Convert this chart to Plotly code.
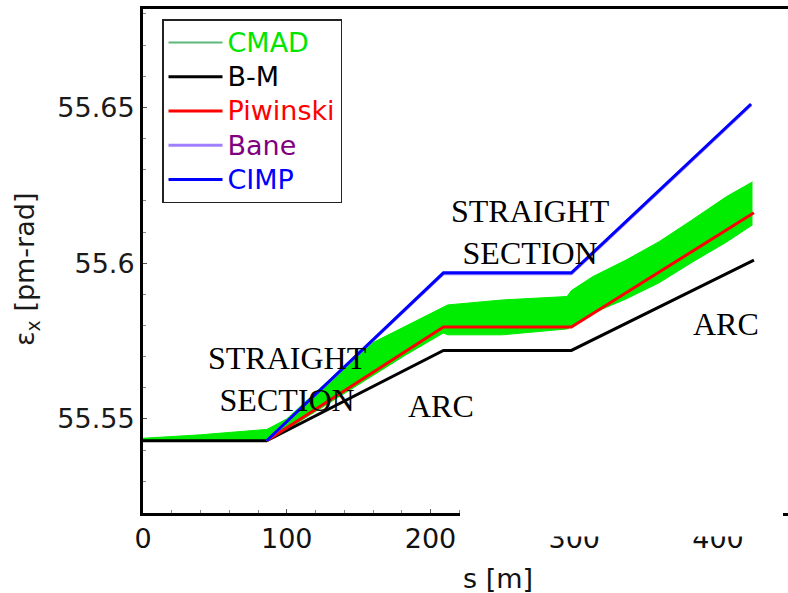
import plotly.graph_objects as go

# ---------------- data ----------------
s_bm = [0, 86, 209, 298, 425]
eps_bm = [55.5430, 55.5430, 55.5720, 55.5720, 55.6010]

s_piw = [86, 209, 298, 425]
eps_piw = [55.5430, 55.5795, 55.5795, 55.6162]

s_bane = [86, 209, 298, 423]
eps_bane = [55.5430, 55.5966, 55.5966, 55.6508]

s_cimp = [86, 209, 298, 423]
eps_cimp = [55.5430, 55.5969, 55.5969, 55.6511]

s_cmad = [0, 40, 85, 86, 100, 130, 150, 160, 183, 209, 212, 250, 295, 298, 313, 336, 359, 382, 406, 424]
cmad_upper = [55.5438, 55.5449, 55.5466, 55.5466, 55.5500, 55.5628, 55.5712, 55.5745, 55.5798, 55.5857,
              55.5866, 55.5882, 55.5893, 55.5912, 55.5957, 55.6010, 55.6069, 55.6139, 55.6214, 55.6261]
cmad_lower = [55.5430, 55.5430, 55.5430, 55.5428, 55.5466, 55.5553, 55.5612, 55.5641, 55.5706, 55.5776,
              55.5770, 55.5770, 55.5789, 55.5796, 55.5840, 55.5885, 55.5937, 55.6003, 55.6068, 55.6123]

x_ticks = [0, 100, 200, 300, 400]
y_ticks = [55.55, 55.6, 55.65]
y_tick_text = ["55.55", "55.6", "55.65"]

labels = ["STRAIGHT<br>SECTION", "STRAIGHT<br>SECTION", "ARC", "ARC"]
label_s = [100.5, 269.9, 207.0, 405.9]
label_eps = [55.5628, 55.6099, 55.5542, 55.5805]

# ---------------- figure ----------------
GREEN = "#00ec00"
fig = go.Figure()

# CMAD band (lower edge, then upper edge filled to it)
fig.add_trace(go.Scatter(x=s_cmad, y=cmad_lower, mode="lines",
                         line=dict(color=GREEN, width=1), showlegend=False, hoverinfo="skip"))
fig.add_trace(go.Scatter(x=s_cmad, y=cmad_upper, mode="lines", fill="tonexty",
                         fillcolor=GREEN, line=dict(color=GREEN, width=1),
                         showlegend=False, hoverinfo="skip"))

def lg(name, color):
    return '<span style="color:%s;font-size:27px">%s</span>' % (color, name)

# legend entries
fig.add_trace(go.Scatter(x=[None], y=[None], mode="lines",
                         line=dict(color="#5cb87a", width=2),
                         name=lg("CMAD", "#00e600")))
fig.add_trace(go.Scatter(x=s_bm, y=eps_bm, mode="lines",
                         line=dict(color="#000000", width=3),
                         name=lg("B-M", "#000000")))
fig.add_trace(go.Scatter(x=s_piw, y=eps_piw, mode="lines",
                         line=dict(color="#ff0000", width=3),
                         name=lg("Piwinski", "#ff0000")))
fig.add_trace(go.Scatter(x=s_bane, y=eps_bane, mode="lines",
                         line=dict(color="#a080ff", width=3),
                         name=lg("Bane", "#800080")))
fig.add_trace(go.Scatter(x=s_cimp, y=eps_cimp, mode="lines",
                         line=dict(color="#0000ff", width=3),
                         name=lg("CIMP", "#0000ff")))

for t, xs, ys in zip(labels, label_s, label_eps):
    fig.add_annotation(x=xs, y=ys, xref="x", yref="y", text=t, showarrow=False,
                       font=dict(family="Liberation Serif", size=32, color="#000000"),
                       xanchor="center", yanchor="middle", align="center")

# axis titles
fig.add_annotation(x=(498 - 143) / 645, y=(513 - 578) / 504, xref="paper", yref="paper",
                   text="s [m]", showarrow=False, xanchor="center", yanchor="middle",
                   font=dict(family="DejaVu Sans", size=27, color="#111111"))
fig.add_annotation(x=(27 - 143) / 645, y=(513 - 270) / 504, xref="paper", yref="paper",
                   text="ε<sub>x</sub> [pm-rad]", showarrow=False, textangle=-90,
                   xanchor="center", yanchor="middle",
                   font=dict(family="DejaVu Sans", size=27, color="#1a1a1a"))

# white patch covering part of the bottom axis (as in the reference image)
fig.add_shape(type="rect", xref="paper", yref="paper", layer="above",
              x0=(460 - 143) / 645, x1=(783 - 143) / 645,
              y0=(513 - 500) / 504, y1=(513 - 536.5) / 504,
              fillcolor="white", line=dict(width=0))

fig.update_xaxes(range=[0, 448.7], showline=True, linewidth=3, linecolor="black", mirror=True,
                 showgrid=False, zeroline=False, tickvals=x_ticks,
                 ticks="inside", ticklen=4, tickwidth=1, tickcolor="#555",
                 minor=dict(dtick=20, ticks="inside", ticklen=3, tickcolor="#888"),
                 tickfont=dict(family="DejaVu Sans", size=27, color="#111111"))
fig.update_yaxes(range=[55.5198, 55.6816], showline=True, linewidth=3, linecolor="black", mirror=False,
                 showgrid=False, zeroline=False, tickvals=y_ticks, ticktext=y_tick_text,
                 ticks="inside", ticklen=4, tickwidth=1, tickcolor="#555",
                 minor=dict(dtick=0.01, ticks="inside", ticklen=3, tickcolor="#888"),
                 tickfont=dict(family="DejaVu Sans", size=27, color="#1a1a1a"))

fig.update_layout(
    width=788, height=593,
    margin=dict(l=143, r=0, t=9, b=80),
    paper_bgcolor="white", plot_bgcolor="white",
    font=dict(family="DejaVu Sans"),
    legend=dict(x=(162 - 143) / 645, y=(513 - 19) / 504, xanchor="left", yanchor="top",
                bgcolor="white", bordercolor="#222", borderwidth=1.5, traceorder="normal",
                itemwidth=54,
                font=dict(family="DejaVu Sans", size=24), tracegroupgap=0),
    showlegend=True,
)

fig.write_html("out.html", config={"displayModeBar": False},
               post_script="document.body.style.margin='0px';")
